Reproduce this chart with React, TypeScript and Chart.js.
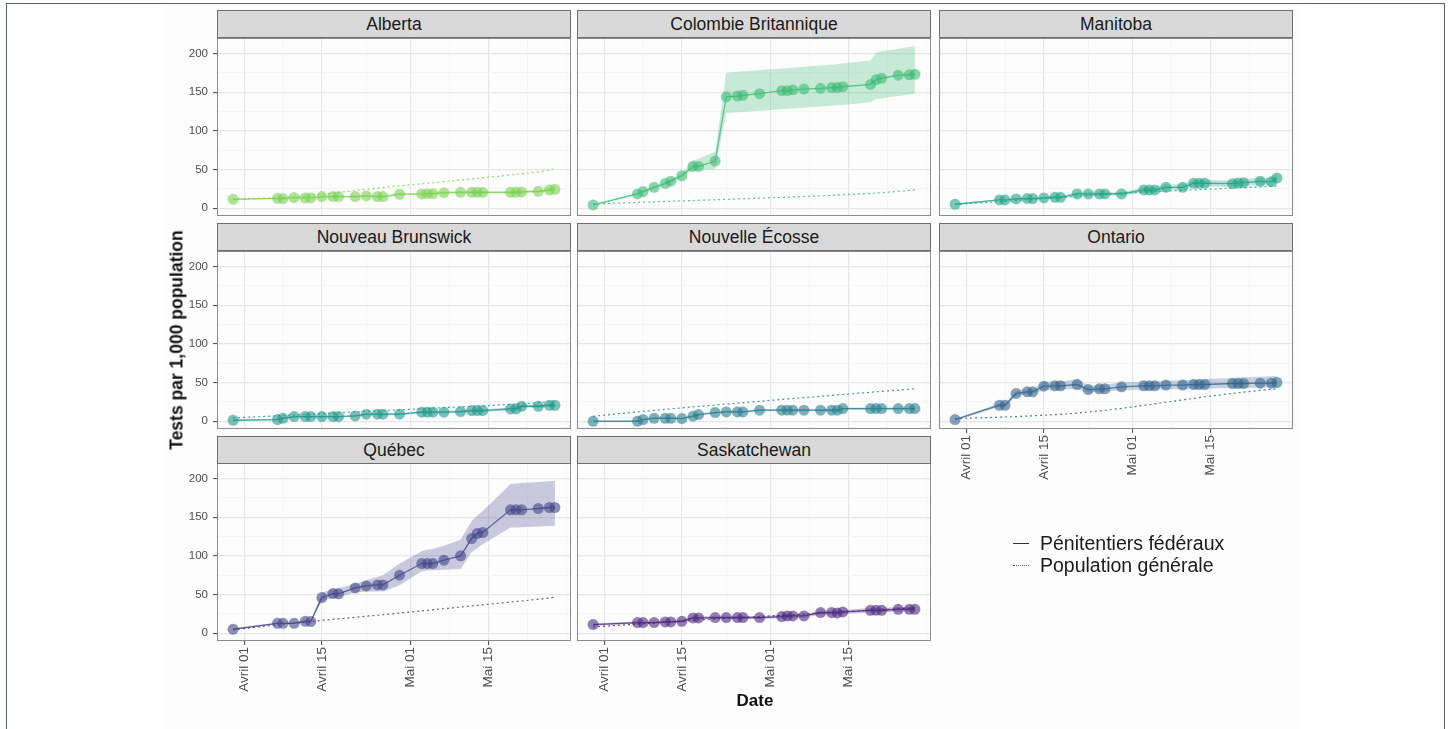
import React, { useEffect, useRef } from "react";
import { Chart, registerables } from "chart.js";

Chart.register(...registerables);

const FONT = "'Liberation Sans', Arial, Helvetica, sans-serif";

// ---------- data ----------
const dates = [
  "2020-03-30", "2020-04-07", "2020-04-08", "2020-04-10", "2020-04-12", "2020-04-13", "2020-04-15",
  "2020-04-17", "2020-04-18", "2020-04-21", "2020-04-23", "2020-04-25", "2020-04-26", "2020-04-29",
  "2020-05-03", "2020-05-04", "2020-05-05", "2020-05-07", "2020-05-10", "2020-05-12", "2020-05-13",
  "2020-05-14", "2020-05-19", "2020-05-20", "2020-05-21", "2020-05-24", "2020-05-26", "2020-05-27",
];

const xTickDates = ["2020-04-01", "2020-04-15", "2020-05-01", "2020-05-15"];
const xTickLabels = ["Avril 01", "Avril 15", "Mai 01", "Mai 15"];
const xMinorDates = ["2020-04-08", "2020-04-23", "2020-05-08", "2020-05-22", "2020-05-29"];
const yMajorTicks = [0, 50, 100, 150, 200];
const yMinorTicks = [25, 75, 125, 175];

const provinces = [
  "Alberta", "Colombie Britannique", "Manitoba",
  "Nouveau Brunswick", "Nouvelle Écosse", "Ontario",
  "Québec", "Saskatchewan",
];

const albertaFed = [11.6, 12.9, 12.5, 13.8, 13.3, 13.3, 15.1, 15.1, 15.1, 15.1, 15.9, 15.1, 15.1, 18.1, 18.5, 18.9, 18.9, 20.2, 20.6, 20.6, 20.6, 20.6, 20.6, 20.6, 21.1, 21.9, 23.7, 24.5];
const albertaLow = [11.0, 12.0, 11.6, 12.8, 12.3, 12.3, 14.0, 14.0, 14.0, 14.0, 14.8, 14.0, 14.0, 16.8, 17.2, 17.5, 17.5, 18.7, 19.0, 19.0, 19.0, 19.0, 18.9, 18.9, 19.3, 20.0, 21.7, 22.4];
const albertaHigh = [12.2, 13.8, 13.4, 14.8, 14.3, 14.3, 16.2, 16.2, 16.2, 16.2, 17.0, 16.2, 16.2, 19.4, 19.8, 20.3, 20.3, 21.7, 22.2, 22.2, 22.2, 22.2, 22.3, 22.3, 22.9, 23.8, 25.7, 26.6];
const albertaPop = [11.6, 13.5, 14.0, 15.0, 16.0, 16.5, 18.0, 19.5, 20.5, 23.0, 24.5, 26.0, 27.0, 29.0, 31.5, 32.5, 33.0, 34.5, 36.5, 38.0, 38.5, 39.5, 43.0, 44.0, 44.5, 47.0, 49.5, 51.0];

const cbFed = [4.3, 18.5, 21.5, 27.0, 32.0, 35.0, 42.0, 54.0, 54.0, 61.0, 144.0, 145.0, 146.0, 148.0, 152.0, 152.0, 153.0, 154.0, 155.0, 156.0, 156.0, 157.0, 160.0, 166.0, 168.0, 172.0, 172.5, 173.0];
const cbLow = [3.5, 17.0, 20.0, 25.5, 30.5, 33.0, 40.0, 49.0, 49.5, 50.0, 123.0, 124.0, 124.5, 126.0, 128.0, 128.5, 129.0, 130.0, 131.5, 132.5, 133.0, 133.5, 137.0, 141.0, 142.0, 145.0, 147.0, 148.0];
const cbHigh = [5.0, 20.0, 23.0, 28.5, 34.0, 37.5, 45.0, 62.0, 64.0, 73.0, 175.5, 176.5, 177.0, 178.5, 180.5, 181.0, 181.5, 183.0, 184.5, 185.5, 186.0, 187.0, 191.0, 201.0, 203.0, 206.0, 208.5, 209.5];
const cbPop = [5.6, 7.5, 7.8, 8.3, 8.8, 9.0, 9.5, 10.0, 10.3, 11.0, 11.5, 12.0, 12.3, 13.0, 14.0, 14.3, 14.6, 15.2, 16.0, 16.7, 17.0, 17.4, 19.2, 19.7, 20.2, 21.8, 23.0, 23.7];

const manitobaFed = [5.2, 10.8, 10.8, 12.0, 12.5, 12.5, 13.3, 14.2, 14.2, 18.5, 18.5, 18.5, 18.5, 18.5, 23.7, 23.7, 23.7, 27.1, 27.1, 32.3, 32.3, 32.3, 31.8, 32.7, 33.1, 34.8, 34.4, 39.1];
const manitobaLow = [4.6, 9.8, 9.8, 10.8, 11.2, 11.2, 11.8, 12.6, 12.6, 16.6, 16.5, 16.5, 16.4, 16.3, 20.5, 20.5, 20.4, 23.6, 23.5, 28.3, 28.2, 28.2, 27.6, 28.4, 28.8, 30.2, 29.8, 34.2];
const manitobaHigh = [5.8, 11.8, 11.8, 13.2, 13.8, 13.8, 14.8, 15.8, 15.8, 20.4, 20.5, 20.5, 20.6, 20.7, 26.9, 26.9, 27.0, 30.6, 30.7, 36.3, 36.4, 36.4, 36.0, 37.0, 37.4, 39.4, 39.0, 44.0];
const manitobaPop = [5.0, 8.5, 9.0, 10.0, 11.0, 11.5, 12.5, 13.5, 14.0, 15.5, 16.5, 17.5, 18.0, 19.5, 21.0, 21.3, 21.6, 22.2, 23.2, 23.8, 24.1, 24.4, 26.0, 26.3, 26.6, 27.6, 28.3, 28.8];

const nbFed = [1.3, 2.2, 3.9, 6.0, 6.0, 6.0, 6.0, 6.0, 6.0, 6.9, 9.1, 9.1, 9.1, 9.1, 11.7, 11.7, 11.7, 11.7, 12.5, 13.8, 13.8, 13.8, 16.0, 16.0, 19.4, 19.4, 20.7, 20.7];
const nbLow = [0.6, 1.3, 2.9, 4.9, 4.9, 4.9, 4.9, 4.9, 4.9, 5.7, 7.8, 7.8, 7.8, 7.8, 10.2, 10.2, 10.2, 10.2, 10.9, 12.1, 12.1, 12.1, 14.1, 14.1, 17.3, 17.3, 18.5, 18.5];
const nbHigh = [2.0, 3.1, 4.9, 7.1, 7.1, 7.1, 7.1, 7.1, 7.1, 8.1, 10.4, 10.4, 10.4, 10.4, 13.2, 13.2, 13.2, 13.2, 14.1, 15.5, 15.5, 15.5, 17.9, 17.9, 21.5, 21.5, 22.9, 22.9];
const nbPop = [4.3, 7.0, 7.4, 8.1, 8.8, 9.2, 9.9, 10.6, 11.0, 12.0, 12.7, 13.4, 13.8, 14.8, 16.2, 16.6, 16.9, 17.6, 18.6, 19.3, 19.7, 20.0, 21.8, 22.2, 22.6, 24.0, 25.4, 26.2];

const neFed = [0.0, 0.0, 2.2, 3.9, 3.9, 3.9, 3.5, 6.5, 8.6, 11.2, 12.1, 12.1, 12.1, 14.3, 14.3, 14.3, 14.3, 14.3, 14.3, 14.3, 14.3, 16.4, 16.4, 16.4, 16.4, 16.4, 16.4, 16.4];
const neLow = [0.0, 0.0, 1.5, 3.1, 3.1, 3.1, 2.8, 5.6, 7.6, 10.0, 10.9, 10.9, 10.9, 13.0, 13.0, 13.0, 13.0, 13.0, 13.0, 13.0, 13.0, 15.0, 15.0, 15.0, 15.0, 15.0, 15.0, 15.0];
const neHigh = [0.6, 0.6, 2.9, 4.7, 4.7, 4.7, 4.3, 7.4, 9.6, 12.4, 13.3, 13.3, 13.3, 15.6, 15.6, 15.6, 15.6, 15.6, 15.6, 15.6, 15.6, 17.8, 17.8, 17.8, 17.8, 17.8, 17.8, 17.8];
const nePop = [6.5, 12.0, 12.7, 14.0, 15.3, 16.0, 17.3, 18.6, 19.2, 21.0, 22.2, 23.4, 24.0, 25.8, 28.2, 28.8, 29.4, 30.5, 32.2, 33.4, 34.0, 34.6, 37.4, 38.0, 38.6, 40.2, 41.4, 42.0];

const ontarioFed = [2.2, 20.7, 20.7, 35.9, 38.0, 38.0, 45.4, 45.8, 45.8, 47.5, 41.0, 41.9, 41.9, 44.5, 45.8, 45.8, 45.8, 46.7, 46.7, 47.5, 47.5, 47.5, 48.8, 48.8, 48.8, 49.2, 49.2, 50.1];
const ontarioLow = [1.2, 18.5, 18.5, 33.0, 34.5, 34.5, 40.5, 41.0, 41.0, 42.0, 37.0, 38.0, 38.0, 40.0, 41.0, 41.0, 41.0, 41.5, 41.5, 42.0, 42.0, 42.0, 43.0, 43.0, 43.0, 43.5, 43.5, 44.0];
const ontarioHigh = [3.2, 23.0, 23.0, 39.0, 41.5, 41.5, 51.0, 51.5, 51.5, 54.5, 46.0, 47.0, 47.5, 50.0, 51.5, 51.5, 51.5, 52.5, 53.0, 54.0, 54.0, 54.5, 56.0, 56.5, 57.0, 57.5, 58.0, 58.5];
const ontarioPop = [3.5, 5.2, 5.5, 6.0, 6.7, 7.0, 7.8, 8.6, 9.0, 10.5, 11.8, 13.4, 14.2, 16.6, 20.5, 21.5, 22.5, 24.6, 27.6, 29.6, 30.6, 31.7, 36.0, 36.8, 37.6, 39.8, 41.2, 42.0];

const quebecFed = [5.2, 12.9, 12.9, 12.9, 15.5, 15.1, 46.1, 51.3, 50.9, 58.6, 61.2, 62.5, 62.5, 75.0, 90.1, 90.1, 90.1, 94.4, 100.0, 122.4, 129.0, 130.2, 159.5, 159.5, 159.5, 161.2, 162.5, 162.5];
const quebecLow = [4.5, 12.0, 12.0, 12.0, 14.5, 14.0, 41.8, 46.0, 46.5, 52.6, 54.0, 54.0, 54.0, 62.0, 80.0, 81.0, 81.5, 82.0, 83.0, 105.0, 110.0, 115.0, 136.6, 136.8, 137.0, 137.8, 138.5, 138.8];
const quebecHigh = [6.0, 14.0, 14.0, 14.0, 16.5, 16.3, 52.6, 57.0, 58.0, 64.0, 68.5, 73.0, 75.0, 90.0, 106.0, 108.0, 109.0, 113.0, 120.7, 145.0, 152.0, 158.0, 193.0, 193.5, 194.0, 195.5, 196.5, 197.0];
const quebecPop = [4.5, 11.0, 11.8, 13.0, 14.2, 15.0, 16.8, 18.0, 18.6, 20.6, 22.0, 23.3, 24.0, 26.0, 28.9, 29.6, 30.3, 31.7, 33.8, 35.3, 36.0, 36.7, 40.3, 41.0, 41.7, 43.9, 45.6, 46.5];

const saskFed = [11.2, 13.8, 13.8, 13.8, 14.7, 14.7, 15.5, 19.8, 19.8, 20.3, 20.3, 20.3, 20.3, 20.3, 21.6, 22.4, 22.4, 22.4, 26.7, 26.7, 26.3, 27.6, 29.7, 29.7, 29.7, 31.0, 31.0, 31.0];
const saskLow = [9.8, 12.4, 12.4, 12.4, 13.2, 13.2, 14.0, 18.0, 18.0, 18.4, 18.4, 18.4, 18.4, 18.3, 19.5, 20.2, 20.2, 20.1, 24.2, 24.2, 23.8, 25.0, 26.9, 26.8, 26.8, 28.0, 27.9, 27.8];
const saskHigh = [12.6, 15.2, 15.2, 15.2, 16.2, 16.2, 17.0, 21.6, 21.6, 22.2, 22.2, 22.2, 22.2, 22.3, 23.7, 24.6, 24.6, 24.7, 29.2, 29.2, 28.8, 30.2, 32.5, 32.6, 32.6, 34.0, 34.1, 34.2];
const saskPop = [8.2, 11.8, 12.4, 13.2, 14.2, 14.7, 15.6, 16.6, 17.1, 18.4, 19.2, 20.0, 20.4, 21.6, 23.2, 23.6, 24.0, 24.8, 26.0, 26.8, 27.2, 27.6, 29.6, 30.0, 30.4, 31.6, 32.4, 32.8];

const legendLabels = ["Pénitentiers fédéraux", "Population générale"];

// ---------- styling / layout ----------
const provinceColors = [
  "122,209,81", "60,187,117", "32,163,134",
  "31,150,139", "40,125,142", "51,99,141",
  "65,68,135", "75,40,125",
];
const seriesByProvince = [
  [albertaFed, albertaLow, albertaHigh, albertaPop],
  [cbFed, cbLow, cbHigh, cbPop],
  [manitobaFed, manitobaLow, manitobaHigh, manitobaPop],
  [nbFed, nbLow, nbHigh, nbPop],
  [neFed, neLow, neHigh, nePop],
  [ontarioFed, ontarioLow, ontarioHigh, ontarioPop],
  [quebecFed, quebecLow, quebecHigh, quebecPop],
  [saskFed, saskLow, saskHigh, saskPop],
];

const COL_LEFT = [217, 577, 939];
const STRIP_TOP = [10, 223, 436];
const PANEL_TOP = [38, 251, 463];
const PANEL_W = 354;
const PANEL_H = 178;
const STRIP_H = 28;
const PAD = 20;

const toDay = (s: string) =>
  (Date.parse(s + "T00:00:00Z") - Date.parse("2020-04-01T00:00:00Z")) / 86400000;

const days = dates.map(toDay);
const xMajorDays = xTickDates.map(toDay);
const xMinorDays = xMinorDates.map(toDay);
const dMin = Math.min(...days);
const dMax = Math.max(...days);
const X_MIN = dMin - 0.05 * (dMax - dMin);
const X_MAX = dMax + 0.05 * (dMax - dMin);
const Y_MIN = -10;
const Y_MAX = 220;

const panelBorder = {
  id: "panelBorder",
  afterDraw(chart: any) {
    const { ctx, chartArea: a } = chart;
    ctx.save();
    ctx.strokeStyle = "#8a8a8a";
    ctx.lineWidth = 1;
    ctx.strokeRect(Math.round(a.left) + 0.5, Math.round(a.top) + 0.5, Math.round(a.right - a.left) - 1, Math.round(a.bottom - a.top) - 1);
    ctx.restore();
  },
};

function Panel({ index }: { index: number }) {
  const ref = useRef<HTMLCanvasElement>(null);
  const col = index % 3;
  const row = Math.floor(index / 3);
  const showY = col === 0;
  const showX = row === 2 || (row === 1 && col === 2);
  const ml = showY ? 60 : PAD;
  const mb = showX ? 90 : PAD;
  const cw = ml + PANEL_W + PAD;
  const ch = PAD + PANEL_H + mb;
  const left = COL_LEFT[col] - ml;
  const top = PANEL_TOP[row] - PAD;

  useEffect(() => {
    const c = provinceColors[index];
    const rgba = (a: number) => `rgba(${c},${a})`;
    const [fed, lo, hi, pop] = seriesByProvince[index];
    const pts = (arr: number[]) => arr.map((v, i) => ({ x: days[i], y: v }));
    const isMajorX = (v: number) => xMajorDays.includes(v);
    const isMajorY = (v: number) => yMajorTicks.includes(v);

    const chart = new Chart(ref.current as HTMLCanvasElement, {
      type: "line",
      data: {
        datasets: [
          {
            data: pts(fed),
            borderColor: rgba(0.8),
            borderWidth: 1.3,
            pointRadius: 5.5,
            pointBackgroundColor: rgba(0.6),
            pointBorderWidth: 0,
            fill: false,
          },
          {
            data: pts(pop),
            borderColor: rgba(0.85),
            borderWidth: 1.2,
            borderDash: [2, 3],
            pointRadius: 0,
            fill: false,
          },
          {
            data: pts(hi),
            borderColor: "rgba(0,0,0,0)",
            borderWidth: 0,
            pointRadius: 0,
            backgroundColor: rgba(0.28),
            fill: "+1",
          },
          {
            data: pts(lo),
            borderColor: "rgba(0,0,0,0)",
            borderWidth: 0,
            pointRadius: 0,
            fill: false,
          },
        ],
      },
      options: {
        responsive: false,
        animation: false,
        events: [],
        layout: { padding: { left: 0, top: PAD, right: PAD, bottom: 0 } },
        plugins: { legend: { display: false }, tooltip: { enabled: false } },
        scales: {
          x: {
            type: "linear",
            min: X_MIN,
            max: X_MAX,
            afterBuildTicks: (s: any) => {
              s.ticks = [...xMajorDays, ...xMinorDays].sort((a, b) => a - b).map((v) => ({ value: v }));
            },
            afterFit: (s: any) => {
              s.height = mb;
            },
            ticks: {
              display: showX,
              autoSkip: false,
              minRotation: 90,
              maxRotation: 90,
              padding: 2,
              color: "#4d4d4d",
              font: { family: FONT, size: 13.5 },
              callback: (v: any) => {
                const i = xMajorDays.indexOf(Number(v));
                return i >= 0 ? xTickLabels[i] : "";
              },
            },
            grid: {
              color: (ctx: any) => (isMajorX(ctx.tick?.value) ? "#e6e6e6" : "#f2f2f2"),
              lineWidth: (ctx: any) => (isMajorX(ctx.tick?.value) ? 1.2 : 0.8),
              drawTicks: showX,
              tickLength: 4,
              tickWidth: 1,
              tickColor: (ctx: any) => (isMajorX(ctx.tick?.value) ? "#444" : "rgba(0,0,0,0)"),
            },
            border: { display: false },
          },
          y: {
            type: "linear",
            min: Y_MIN,
            max: Y_MAX,
            afterBuildTicks: (s: any) => {
              s.ticks = [...yMajorTicks, ...yMinorTicks].sort((a, b) => a - b).map((v) => ({ value: v }));
            },
            afterFit: (s: any) => {
              s.width = ml;
            },
            ticks: {
              display: showY,
              padding: 5,
              color: "#4d4d4d",
              font: { family: FONT, size: 11.5 },
              callback: (v: any) => (isMajorY(Number(v)) ? String(v) : ""),
            },
            grid: {
              color: (ctx: any) => (isMajorY(ctx.tick?.value) ? "#e6e6e6" : "#f2f2f2"),
              lineWidth: (ctx: any) => (isMajorY(ctx.tick?.value) ? 1.2 : 0.8),
              drawTicks: showY,
              tickLength: 4,
              tickWidth: 1,
              tickColor: (ctx: any) => (isMajorY(ctx.tick?.value) ? "#444" : "rgba(0,0,0,0)"),
            },
            border: { display: false },
          },
        },
      },
      plugins: [panelBorder],
    } as any);
    return () => chart.destroy();
  }, [index]);

  return (
    <>
      <canvas
        ref={ref}
        width={cw}
        height={ch}
        style={{ position: "absolute", left, top, width: cw, height: ch }}
      />
      <div
        style={{
          position: "absolute",
          left: COL_LEFT[col],
          top: STRIP_TOP[row],
          width: PANEL_W,
          height: STRIP_H,
          boxSizing: "border-box",
          background: "#d9d9d9",
          border: "1px solid #6e6e6e",
          color: "#1a1a1a",
          fontFamily: FONT,
          fontSize: 17.5,
          lineHeight: STRIP_H - 2 + "px",
          textAlign: "center",
          whiteSpace: "nowrap",
        }}
      >
        {provinces[index]}
      </div>
    </>
  );
}

export default function App() {
  return (
    <div
      style={{
        position: "fixed",
        left: 0,
        top: 0,
        width: 1449,
        height: 729,
        overflow: "hidden",
        background: "#ffffff",
        fontFamily: FONT,
      }}
    >
      <div style={{ position: "absolute", left: 165, top: 4, width: 1135, height: 730, background: "#fdfdfd" }} />
      <div
        style={{
          position: "absolute",
          left: 6,
          top: 3,
          width: 1439,
          height: 760,
          boxSizing: "border-box",
          border: "1.5px solid #56616d",
        }}
      />
      {provinces.map((_, i) => (
        <Panel key={i} index={i} />
      ))}
      <div
        style={{
          position: "absolute",
          left: 177,
          top: 340,
          transform: "translate(-50%, -50%) rotate(-90deg)",
          fontWeight: "bold",
          fontSize: 17.5,
          color: "#111",
          whiteSpace: "nowrap",
        }}
      >
        Tests par 1,000 population
      </div>
      <div
        style={{
          position: "absolute",
          left: 755,
          top: 701,
          transform: "translate(-50%, -50%)",
          fontWeight: "bold",
          fontSize: 17,
          color: "#111",
          whiteSpace: "nowrap",
        }}
      >
        Date
      </div>
      <div style={{ position: "absolute", left: 1013, top: 542.5, width: 16, borderTop: "1.5px solid #333" }} />
      <div style={{ position: "absolute", left: 1013, top: 564.5, width: 16, borderTop: "1.5px dotted #555" }} />
      <div
        style={{ position: "absolute", left: 1040, top: 532, fontSize: 19.5, lineHeight: "22px", color: "#1a1a1a", whiteSpace: "nowrap" }}
      >
        {legendLabels[0]}
      </div>
      <div
        style={{ position: "absolute", left: 1040, top: 554, fontSize: 19.5, lineHeight: "22px", color: "#1a1a1a", whiteSpace: "nowrap" }}
      >
        {legendLabels[1]}
      </div>
    </div>
  );
}
